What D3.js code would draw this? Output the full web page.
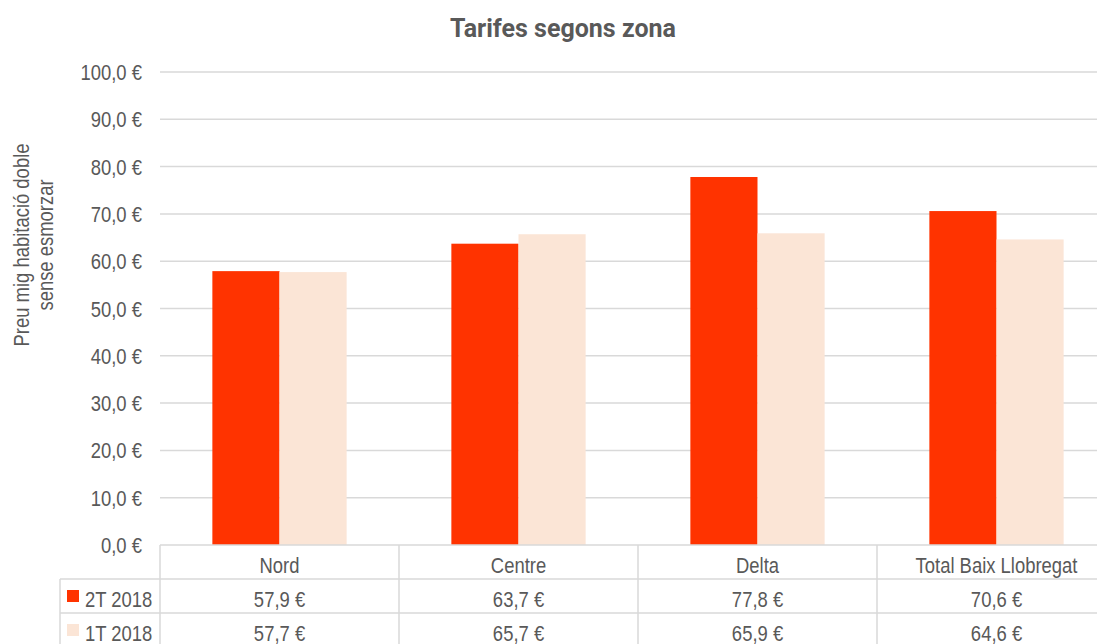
<!DOCTYPE html>
<html>
<head>
<meta charset="utf-8">
<script src="https://cdn.jsdelivr.net/npm/d3@7"></script>
<style>
  body { margin: 0; background: #fff; }
  svg text { font-family: "Liberation Sans Narrow", "Liberation Sans", Arial, sans-serif; fill: #595959; }
</style>
</head>
<body>
<div id="chart"></div>
<script>
const width = 1097;
const height = 644;

// Chart data
const categories = ["Nord", "Centre", "Delta", "Total Baix Llobregat"];
const seriesNames = ["2T 2018", "1T 2018"];
const values2T = [57.9, 63.7, 77.8, 70.6];
const values1T = [57.7, 65.7, 65.9, 64.6];
const yTicks = [0, 10, 20, 30, 40, 50, 60, 70, 80, 90, 100];
const colors = ["#ff3300", "#fbe5d6"];

const seriesValues = [values2T, values1T];
const fmt = v => v.toFixed(1).replace(".", ",") + " €";

// narrow look: squeeze text horizontally
const narrow = 0.82;
const fontSize = "22.5px";

const svg = d3.select("#chart")
    .append("svg")
    .attr("width", width)
    .attr("height", height);

const plotLeft = 160, plotRight = 1116, plotTop = 72, plotBottom = 545;

const x0 = d3.scaleBand()
    .domain(categories)
    .range([plotLeft, plotRight]);

const x1 = d3.scaleBand()
    .domain(seriesNames)
    .range([0, x0.bandwidth()])
    .paddingInner(0)
    .paddingOuter(0.78);

const y = d3.scaleLinear()
    .domain([0, 100])
    .range([plotBottom, plotTop]);

// Title
svg.append("text")
    .attr("x", 563)
    .attr("y", 37)
    .attr("text-anchor", "middle")
    .style("font-family", "Roboto, 'Liberation Sans', sans-serif")
    .style("font-weight", "bold")
    .style("font-size", "25px")
    .text("Tarifes segons zona");

// Gridlines
svg.append("g")
    .selectAll("line")
    .data(yTicks.filter(d => d > 0))
    .enter()
    .append("line")
    .attr("x1", plotLeft)
    .attr("x2", width)
    .attr("y1", d => y(d))
    .attr("y2", d => y(d))
    .attr("stroke", "#d9d9d9")
    .attr("stroke-width", 1.5);

// Y axis labels
svg.append("g")
    .selectAll("text")
    .data(yTicks)
    .enter()
    .append("text")
    .attr("transform", d => `translate(142,${y(d) + 8}) scale(${narrow},1)`)
    .attr("text-anchor", "end")
    .style("font-size", fontSize)
    .text(d => fmt(d));

// Y axis title
const yTitle = svg.append("text")
    .attr("transform", `translate(39,245) rotate(-90) scale(${narrow},1)`)
    .attr("text-anchor", "middle")
    .style("font-size", "22.5px");
yTitle.append("tspan").attr("x", 0).attr("dy", "-0.45em").text("Preu mig habitació  doble");
yTitle.append("tspan").attr("x", 0).attr("dy", "1.05em").text("sense esmorzar");

// Bars
const groups = svg.append("g")
    .selectAll("g")
    .data(categories)
    .enter()
    .append("g")
    .attr("transform", d => `translate(${x0(d)},0)`);

groups.selectAll("rect")
    .data((d, i) => seriesNames.map((s, j) => ({ s, v: seriesValues[j][i], j })))
    .enter()
    .append("rect")
    .attr("x", d => x1(d.s))
    .attr("y", d => y(d.v))
    .attr("width", x1.bandwidth())
    .attr("height", d => y(0) - y(d.v))
    .attr("fill", d => colors[d.j]);

// Data table
const rowTop = [545, 579, 613];
const table = svg.append("g");
const lineColor = "#d9d9d9";

// horizontal lines
table.append("line")
    .attr("x1", plotLeft).attr("x2", width)
    .attr("y1", rowTop[0]).attr("y2", rowTop[0])
    .attr("stroke", lineColor).attr("stroke-width", 1.5);
[rowTop[1], rowTop[2]].forEach(yy => {
    table.append("line")
        .attr("x1", 60).attr("x2", width)
        .attr("y1", yy).attr("y2", yy)
        .attr("stroke", lineColor).attr("stroke-width", 1.5);
});

// vertical lines
table.selectAll(".vline")
    .data(categories)
    .enter()
    .append("line")
    .attr("class", "vline")
    .attr("x1", d => x0(d)).attr("x2", d => x0(d))
    .attr("y1", rowTop[0]).attr("y2", height)
    .attr("stroke", lineColor).attr("stroke-width", 1.5);
table.append("line")
    .attr("x1", 60).attr("x2", 60)
    .attr("y1", rowTop[1]).attr("y2", height)
    .attr("stroke", lineColor).attr("stroke-width", 1.5);

// header
table.selectAll(".hdr")
    .data(categories)
    .enter()
    .append("text")
    .attr("class", "hdr")
    .attr("transform", d => `translate(${x0(d) + x0.bandwidth() / 2},${rowTop[0] + 28}) scale(${narrow},1)`)
    .attr("text-anchor", "middle")
    .style("font-size", fontSize)
    .text(d => d);

// rows
seriesNames.forEach((s, j) => {
    const top = rowTop[j + 1];
    table.append("rect")
        .attr("x", 67).attr("y", top + 11)
        .attr("width", 12).attr("height", 12)
        .attr("fill", colors[j]);
    table.append("text")
        .attr("transform", `translate(85,${top + 28}) scale(${narrow},1)`)
        .style("font-size", fontSize)
        .text(s);
    table.selectAll(".cell" + j)
        .data(categories)
        .enter()
        .append("text")
        .attr("transform", d => `translate(${x0(d) + x0.bandwidth() / 2},${top + 28}) scale(${narrow},1)`)
        .attr("text-anchor", "middle")
        .style("font-size", fontSize)
        .text((d, i) => fmt(seriesValues[j][i]));
});
</script>
</body>
</html>
